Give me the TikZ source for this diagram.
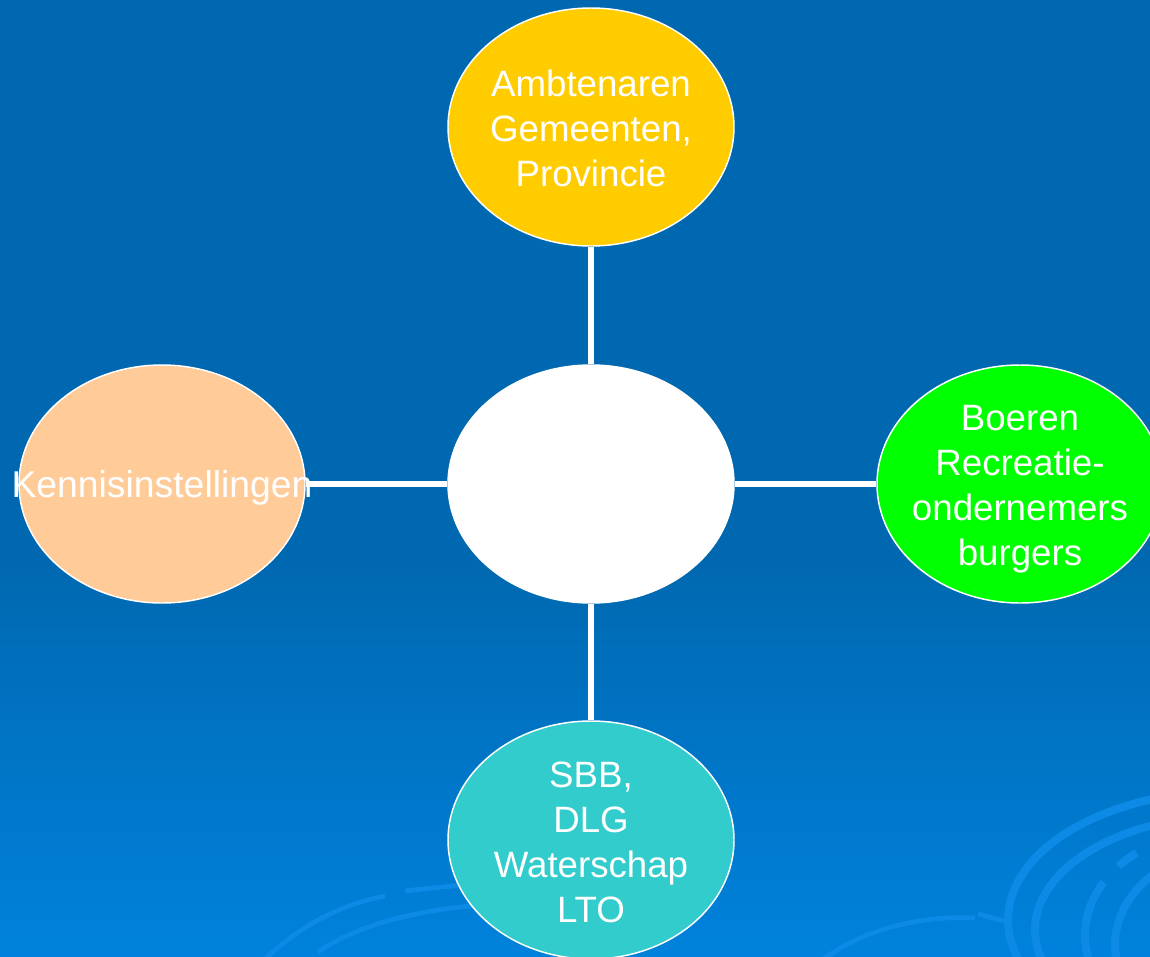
\documentclass[tikz,border=0pt]{standalone}
\usepackage{fontspec}
\setmainfont{Liberation Sans}
\usetikzlibrary{shapes.geometric}
\definecolor{bgtop}{RGB}{0,104,176}
\definecolor{bgbot}{RGB}{0,130,220}
\definecolor{swirl}{RGB}{12,138,230}
\definecolor{cyellow}{RGB}{255,204,0}
\definecolor{cpeach}{RGB}{255,204,153}
\definecolor{cgreen}{RGB}{0,255,0}
\definecolor{cteal}{RGB}{51,204,204}
\tikzset{
  blob/.style={ellipse, draw=white, line width=1.1pt, minimum width=214.5pt, minimum height=178.5pt,
    inner sep=0pt},
  lbl/.style={text=white, font=\fontsize{27.5}{33.75}\selectfont, align=center, inner sep=0pt},
  link/.style={white, line width=5pt},
  swirlline/.style={swirl, line width=6pt},
  swirlthin/.style={swirl, line width=3.5pt}
}
\begin{document}
\begin{tikzpicture}[x=0.75pt,y=-0.75pt]
\useasboundingbox (0,0) rectangle (1150,957);
\begin{scope}
\clip (0,0) rectangle (1150,957);
\fill[bgtop] (0,0) rectangle (1150,560);
\shade[top color=bgtop, bottom color=bgbot] (0,559) rectangle (1150,957);
% swirls bottom right
\draw[swirlline] plot[domain=155:300,samples=80] ({1230+222*cos(\x)},{920+129*sin(\x)});
\draw[swirlline] plot[domain=150:300,samples=80] ({1235+200*cos(\x)},{930+115*sin(\x)});
\draw[swirlline] plot[domain=168:209,samples=30] ({1235+150*cos(\x)},{935+109*sin(\x)});
\draw[swirlline] plot[domain=219:229,samples=10] ({1235+150*cos(\x)},{935+109*sin(\x)});
\draw[swirlline] plot[domain=165:300,samples=60] ({1240+125*cos(\x)},{945+98*sin(\x)});
% swirls bottom centre
\draw[swirlthin] (262,962) .. controls (300,925) and (340,905) .. (385,896);
\draw[swirlthin] (405,891) .. controls (430,888) and (450,886) .. (480,884);
\draw[swirlthin] (318,952) .. controls (350,930) and (400,912) .. (480,905);
\draw[swirlthin] (820,962) .. controls (860,930) and (920,915) .. (975,918);
\draw[swirlthin] (978,914) -- (1008,922);
\end{scope}
\node[blob, fill=white] (c) at (591,484) {};
\node[blob, fill=cyellow] (t) at (591,127) {};
\node[blob, fill=cpeach] (l) at (162,484) {};
\node[blob, fill=cgreen] (r) at (1020,484) {};
\node[blob, fill=cteal] (b) at (591,840) {};
\draw[link] (c) -- (t);
\draw[link] (c) -- (b);
\draw[link] (c) -- (r);
\draw[link] (c) -- (l);
\node[lbl] (ttxt) at ([yshift=-1pt]t.center) {Ambtenaren\\Gemeenten,\\Provincie};
\node[lbl] (rtxt) at ([yshift=-4pt]r.center) {Boeren\\Recreatie-\\ondernemers\\burgers};
\node[lbl] (btxt) at ([yshift=-1.5pt]b.center) {SBB,\\DLG\\Waterschap\\LTO};
\node[lbl, font=\fontsize{28}{33.75}\selectfont] (ltxt) at ([yshift=-3pt]l.center) {Kennisinstellingen};
\end{tikzpicture}
\end{document}
